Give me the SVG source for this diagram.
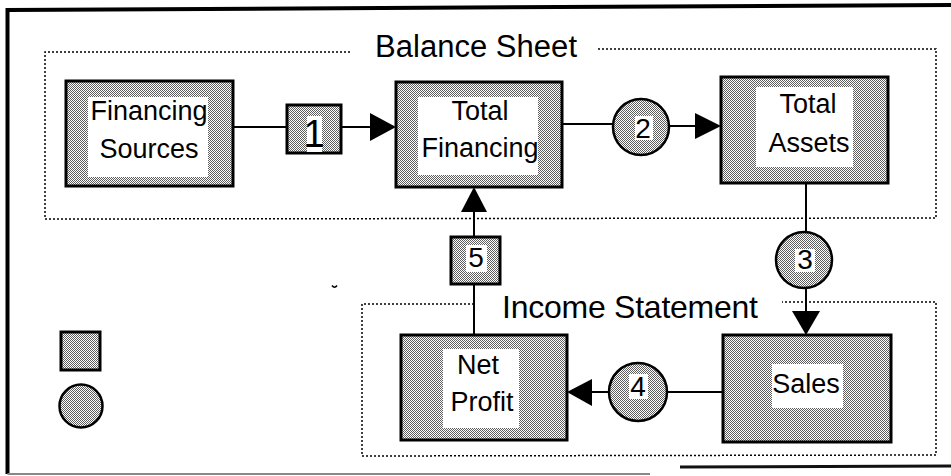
<svg xmlns="http://www.w3.org/2000/svg" width="951" height="476" viewBox="0 0 951 476">
  <defs>
    <!-- halftone stipple used for node fills -->
    <pattern id="stipple" width="2" height="2" patternUnits="userSpaceOnUse">
      <rect width="2" height="2" fill="#ffffff"/>
      <rect x="0" y="0" width="1" height="1" fill="#5e5e5e"/>
      <rect x="1" y="1" width="1" height="1" fill="#5e5e5e"/>
    </pattern>
  </defs>
  <style>
    .node { fill: url(#stipple); stroke: #000; stroke-width: 3; }
    .bubble { fill: url(#stipple); stroke: #000; stroke-width: 2.5; }
    .label-bg { fill: #fff; stroke: none; }
    .label { font-family: "Liberation Sans", "DejaVu Sans", sans-serif; font-size: 27px; fill: #000; text-anchor: middle; }
    .num { font-family: "Liberation Sans", "DejaVu Sans", sans-serif; font-size: 28px; fill: #000; text-anchor: middle; }
    .title { font-family: "Liberation Sans", "DejaVu Sans", sans-serif; font-size: 31px; fill: #000; }
    .region { fill: none; stroke: #000; stroke-width: 1.5; stroke-dasharray: 2 2; }
    .wire { fill: none; stroke: #000; stroke-width: 2; }
    .head { fill: #000; stroke: none; }
  </style>

  <rect width="951" height="476" fill="#fff"/>

  <!-- outer frame -->
  <g id="frame">
    <path d="M7.5 474 L7.5 10 L951 5" fill="none" stroke="#000" stroke-width="4"/>
    <path d="M7.5 474 L650 474" fill="none" stroke="#888" stroke-width="2"/>
    <path d="M680 467 L951 466" fill="none" stroke="#111" stroke-width="3"/>
  </g>

  <!-- region outlines -->
  <g id="balance-sheet">
    <path class="region" d="M350 52 L45 52 L45 219 L936 218 L936 49 L597 49"/>
    <text class="title" x="375" y="57" textLength="202">Balance Sheet</text>
  </g>
  <g id="income-statement">
    <path class="region" d="M474 304 L362 304 L362 456 L936 455 L936 302 L782 302"/>
    <text class="title" x="502" y="318" textLength="256" style="font-size:32px">Income Statement</text>
  </g>

  <!-- connectors -->
  <g id="connectors">
    <line class="wire" x1="233" y1="127" x2="287" y2="127"/>
    <line class="wire" x1="341" y1="127" x2="372" y2="127"/>
    <polygon class="head" points="370,113 396,127 370,141"/>
    <line class="wire" x1="562" y1="124" x2="613" y2="124"/>
    <line class="wire" x1="669" y1="126" x2="697" y2="126"/>
    <polygon class="head" points="695,113 721,126 695,139"/>
    <line class="wire" x1="806" y1="183" x2="806" y2="232"/>
    <line class="wire" x1="806" y1="288" x2="806" y2="313"/>
    <polygon class="head" points="792,311 820,311 806,335"/>
    <line class="wire" x1="723" y1="392" x2="667" y2="392"/>
    <line class="wire" x1="609" y1="392" x2="590" y2="392"/>
    <polygon class="head" points="592,379 567,392 592,406"/>
    <line class="wire" x1="474" y1="335" x2="474" y2="284"/>
    <line class="wire" x1="474" y1="237" x2="474" y2="210"/>
    <polygon class="head" points="461,212 487,212 474,187"/>
  </g>

  <!-- main nodes -->
  <g id="financing-sources">
    <rect class="node" x="66" y="81" width="167" height="105"/>
    <rect class="label-bg" x="88" y="97" width="120" height="80"/>
    <text class="label" x="149" y="120">Financing</text>
    <text class="label" x="149" y="158">Sources</text>
  </g>
  <g id="total-financing">
    <rect class="node" x="396" y="82" width="166" height="105"/>
    <rect class="label-bg" x="418" y="97" width="120" height="78"/>
    <text class="label" x="480" y="120">Total</text>
    <text class="label" x="480" y="157">Financing</text>
  </g>
  <g id="total-assets">
    <rect class="node" x="721" y="77" width="167" height="106"/>
    <rect class="label-bg" x="756" y="87" width="97" height="80"/>
    <text class="label" x="808" y="113">Total</text>
    <text class="label" x="809" y="152">Assets</text>
  </g>
  <g id="sales">
    <rect class="node" x="723" y="335" width="168" height="107"/>
    <rect class="label-bg" x="772" y="364" width="71" height="44"/>
    <text class="label" x="806" y="393">Sales</text>
  </g>
  <g id="net-profit">
    <rect class="node" x="401" y="335" width="166" height="105"/>
    <rect class="label-bg" x="443" y="349" width="76" height="79"/>
    <text class="label" x="478" y="374">Net</text>
    <text class="label" x="482" y="411">Profit</text>
  </g>

  <!-- numbered link markers -->
  <g id="step-1">
    <rect class="node" x="287" y="105" width="54" height="48"/>
    <rect class="label-bg" x="307" y="116" width="15" height="36"/>
    <text class="num" x="314" y="147" style="font-size:38px">1</text>
  </g>
  <g id="step-2">
    <circle class="bubble" cx="641" cy="127" r="28"/>
    <rect class="label-bg" x="635" y="116" width="18" height="24"/>
    <text class="num" x="643" y="138">2</text>
  </g>
  <g id="step-3">
    <circle class="bubble" cx="804" cy="260" r="28"/>
    <rect class="label-bg" x="795" y="249" width="20" height="23"/>
    <text class="num" x="805" y="269">3</text>
  </g>
  <g id="step-4">
    <circle class="bubble" cx="638" cy="392" r="29"/>
    <rect class="label-bg" x="629" y="374" width="19" height="25"/>
    <text class="num" x="638" y="396">4</text>
  </g>
  <g id="step-5">
    <rect class="node" x="451" y="237" width="49" height="47"/>
    <rect class="label-bg" x="466" y="245" width="21" height="27"/>
    <text class="num" x="476" y="267">5</text>
  </g>

  <!-- key symbols -->
  <g id="legend-square">
    <rect class="node" x="61" y="332" width="39" height="38"/>
  </g>
  <g id="legend-circle">
    <circle class="bubble" cx="81" cy="406" r="21.5"/>
  </g>

  <!-- stray mark -->
  <path d="M332 285.5 Q334.5 289 337 285.5" fill="none" stroke="#000" stroke-width="1.5"/>
</svg>
